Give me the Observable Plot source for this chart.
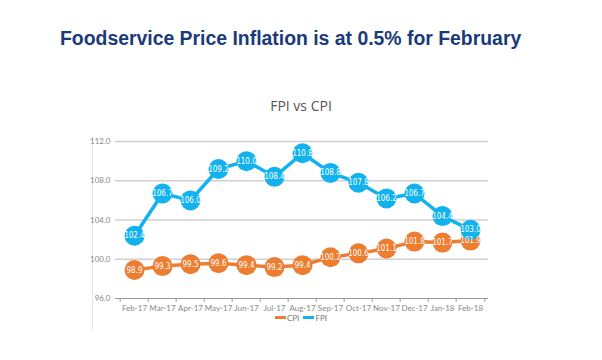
<!DOCTYPE html>
<html><head><meta charset="utf-8">
<script src="https://cdn.jsdelivr.net/npm/d3@7"></script>
<script src="https://cdn.jsdelivr.net/npm/@observablehq/plot@0.6"></script>
<style>
body{margin:0;background:#fff;width:602px;height:360px;position:relative;overflow:hidden;font-family:Lato,"DejaVu Sans",sans-serif}
#title{position:absolute;top:27px;left:60px;font-family:"Liberation Sans",Arial,sans-serif;font-weight:bold;font-size:19.4px;color:#1b3a78;white-space:nowrap}
#sub{position:absolute;top:96px;left:0;width:602px;text-align:center;font-family:"Open Sans",Lato,sans-serif;font-size:14px;color:#555}
#vline{position:absolute;left:92px;top:137px;width:1px;height:193px;background:#e6e6e6}
#chart{position:absolute;left:0;top:130px}
#legend{position:absolute;top:312px;left:0;width:602px;text-align:center;font-size:8px;color:#777}
#legend span{display:inline-block;vertical-align:middle}
.sw{width:11px;height:3px;margin-right:1px}
</style></head>
<body>
<div id="title">Foodservice Price Inflation is at 0.5% for February</div>
<div id="sub">FPI vs CPI</div>
<div id="vline"></div>
<div id="chart"></div>
<div id="legend"><span class="sw" style="background:#ed7d31"></span><span>CPI</span>&nbsp;&nbsp;<span class="sw" style="background:#12b2ee"></span><span>FPI</span></div>
<script>
const months = ["Feb-17","Mar-17","Apr-17","May-17","Jun-17","Jul-17","Aug-17","Sep-17","Oct-17","Nov-17","Dec-17","Jan-18","Feb-18"];
const cpi = [98.9,99.3,99.5,99.6,99.4,99.2,99.4,100.2,100.6,101.1,101.8,101.7,101.9];
const fpi = [102.4,106.7,106.0,109.2,110.0,108.4,110.8,108.8,107.8,106.2,106.7,104.4,103.0];
const yTicks = [96,100,104,108,112];
const colors = {CPI:"#ed7d31", FPI:"#12b2ee"};

const rows = [
  ...months.map((m,i)=>({month:m, value:cpi[i], series:"CPI"})),
  ...months.map((m,i)=>({month:m, value:fpi[i], series:"FPI"}))
];

const chart = Plot.plot({
  width:602, height:200,
  marginLeft:115, marginRight:114, marginTop:11, marginBottom:32,
  style:{fontFamily:"Lato, 'DejaVu Sans', sans-serif", background:"transparent"},
  x:{type:"band", domain:months, padding:0, label:null, tickSize:0},
  y:{domain:[96,112], ticks:yTicks, label:null, tickFormat:d=>d.toFixed(1)},
  marks:[
    Plot.gridY(yTicks.slice(1), {stroke:"#d0d0d0", strokeOpacity:1, strokeWidth:1.5}),
    Plot.ruleY([96], {stroke:"#999", strokeWidth:1}),
    Plot.axisY({ticks:yTicks, tickSize:0, tickPadding:5, fontSize:8, fill:"#888", tickFormat:d=>d.toFixed(1)}),
    Plot.axisX({tickSize:0, tickPadding:7, fontSize:8, fill:"#888"}),
    Plot.ruleX(months, {x:d=>d, y1:96, y2:95.6, stroke:"#999", dx:-14.35}),
    Plot.ruleX(["Feb-18"], {x:d=>d, y1:96, y2:95.6, stroke:"#999", dx:14.35}),
    Plot.line(rows, {x:"month", y:"value", z:"series", stroke:d=>colors[d.series], strokeWidth:3.5}),
    Plot.dot(rows, {x:"month", y:"value", r:10, fill:d=>colors[d.series], stroke:null}),
    Plot.text(rows, {x:"month", y:"value", text:d=>d.value.toFixed(1), fill:"white", fontSize:8, fontFamily:"'Liberation Sans Narrow', 'DejaVu Sans Condensed', sans-serif"})
  ]
});
document.getElementById("chart").appendChild(chart);
</script>
</body></html>
